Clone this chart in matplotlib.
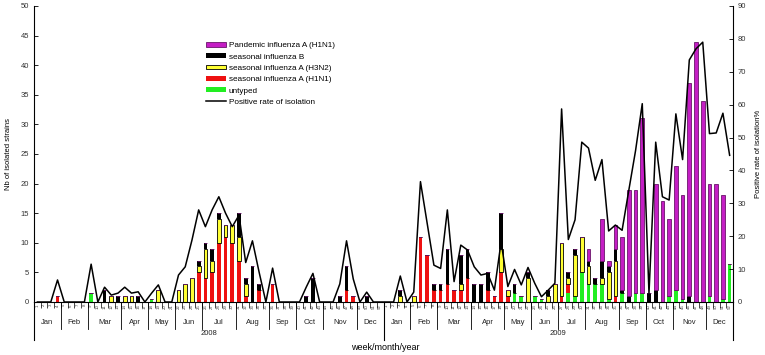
import numpy as np
import matplotlib
matplotlib.use("Agg")
import matplotlib.pyplot as plt
import matplotlib.transforms as mtransforms

plt.rcParams['font.family'] = ['Liberation Sans', 'DejaVu Sans']

# categories on the x axis
years = ['2008', '2009']
months = ['Jan', 'Feb', 'Mar', 'Apr', 'May', 'Jun', 'Jul', 'Aug', 'Sep', 'Oct', 'Nov', 'Dec']
weeks_per_month = {
    '2008': [4, 4, 5, 4, 4, 4, 5, 5, 4, 4, 5, 4],
    '2009': [4, 4, 5, 5, 4, 4, 4, 5, 4, 4, 5, 4],
}

# isolated strains per week (2008 weeks 1-52, then 2009 weeks 1-52)
untyped = [0, 0, 0, 0, 0, 0, 0, 0, 1.5, 0, 0, 0, 0,
           0, 0, 0, 0, 0.5, 0, 0, 0, 0, 0, 0, 0, 0,
           0, 0, 0, 0, 0, 0, 0, 0, 0, 0, 0, 0, 0,
           0, 0, 0, 0, 0, 0, 0, 0, 0, 0, 0, 0, 0,
           0, 0, 0, 0, 0, 0, 0, 0, 0, 0, 0, 0, 0,
           0, 0, 0, 0, 0, 0, 1.5, 1, 0, 1, 0.5, 0, 0,
           0, 1.5, 1, 5, 3, 3, 3, 0.5, 0, 1.5, 0, 1.5, 1.5,
           0, 0, 0, 1, 2, 0.5, 0, 0, 0, 1, 0, 0.5, 6.5]
seasonal_h1n1 = [0, 0, 0, 1, 0, 0, 0, 0, 0, 0, 0, 0, 0,
                 0, 0, 0, 0, 0, 0, 0, 0, 0, 0, 0, 5, 4,
                 5, 10, 11, 10, 7, 1, 0, 2, 0, 3, 0, 0, 0,
                 0, 0, 0, 0, 0, 0, 0, 2, 1, 0, 0, 0, 0,
                 0, 0, 0, 0, 0, 11, 8, 2, 2, 3, 2, 2, 4,
                 0, 0, 2, 1, 5, 1, 0, 0, 0, 0, 0, 0, 0,
                 1, 1.5, 0, 0, 0, 0, 0, 0, 1, 0, 0, 0, 0,
                 0, 0, 0, 0, 0, 0, 0, 0, 0, 0, 0, 0, 0]
seasonal_h3n2 = [0, 0, 0, 0, 0, 0, 0, 0, 0, 0, 0, 1, 0,
                 1, 1, 0, 0, 0, 2, 0, 0, 2, 3, 4, 1, 5,
                 2, 4, 2, 3, 4, 2, 0, 0, 0, 0, 0, 0, 0,
                 0, 0, 0, 0, 0, 0, 0, 0, 0, 0, 0, 0, 0,
                 0, 0, 1, 0, 1, 0, 0, 0, 0, 0, 0, 1, 0,
                 0, 0, 0, 0, 4, 1, 0, 0, 4, 0, 0, 1, 3,
                 9, 1, 7, 6, 3, 0, 1, 4.5, 6, 0, 0, 0, 0,
                 0, 0, 0, 0, 0, 0, 0, 0, 0, 0, 0, 0, 0]
seasonal_b = [0, 0, 0, 0, 0, 0, 0, 0, 0, 0, 2, 0, 1,
              0, 0, 1, 0, 0, 0, 0, 0, 0, 0, 0, 1, 1,
              2, 1, 0, 0, 4, 1, 6, 1, 0, 0, 0, 0, 0,
              0, 1, 4, 0, 0, 0, 1, 4, 0, 0, 1, 0, 0,
              0, 0, 1, 0, 0, 0, 0, 1, 1, 6, 0, 5, 5,
              3, 3, 3, 0, 6, 0, 1.5, 0, 1, 0, 0, 1, 0,
              0, 1, 1, 0, 1, 1, 3, 1, 2, 0.5, 1, 0, 0,
              1.5, 2, 0, 0, 0, 0, 1, 0, 0, 0, 0, 0, 0]
pandemic_h1n1 = [0] * 52 + [0] * 26 + \
                [0, 0, 0, 0, 2, 0, 7, 1, 4, 9, 18, 17.5, 29.5,
                 0, 18, 17, 13, 21, 17.5, 36, 44, 34, 19, 20, 17.5, 0]
positive_rate = [0, 0, 0, 6.7, 0, 0, 0, 0, 11.5, 0, 4.5, 2.1, 2.7,
                 4.5, 2.7, 3.1, 0, 2.7, 5.2, 0, 0, 8.2, 10.7, 18.8, 28, 22.9,
                 28, 32, 27, 22.9, 26.4, 12, 18.6, 9, 0, 10.3, 0, 0, 0,
                 0, 4.5, 8.7, 0, 0, 0, 5.5, 18.6, 7, 0, 3, 0, 0,
                 0, 0, 7.9, 0, 3, 36.6, 23.9, 11.2, 10.2, 28, 6.2, 17.3, 15.8,
                 10.7, 8.2, 8.7, 3.6, 18.3, 4.7, 9.9, 5.2, 10.5, 5.7, 1.6, 3.6, 5.7,
                 58.7, 19, 25, 48.6, 46.8, 37, 43.3, 21.6, 23.4, 21.8, 34, 46, 60.3,
                 2.6, 48.6, 32, 31, 57.2, 43.3, 73.6, 77, 79, 51.2, 51.4, 57.4, 44.6]

x = np.arange(1, len(untyped) + 1)

fig = plt.figure(figsize=(7.65, 3.55), dpi=100)
ax = fig.add_axes([34 / 765, 53 / 355, 699 / 765, 296 / 355])
ax2 = ax.twinx()

# stacked bars, bottom to top
series = [
    (untyped, 'untyped', '#22EE22', 'none', 0),
    (seasonal_h1n1, 'seasonal influenza A (H1N1)', '#EE1111', 'none', 0),
    (seasonal_h3n2, 'seasonal influenza A (H3N2)', '#FFFF33', 'black', 0.6),
    (seasonal_b, 'seasonal influenza B', 'black', 'none', 0),
    (pandemic_h1n1, 'Pandemic influenza A (H1N1)', '#C41EC4', '#6A156A', 0.6),
]
bottom = np.zeros(len(x))
handles = {}
for vals, name, fc, ec, lw in series:
    vals = np.array(vals, dtype=float)
    b = ax.bar(x, vals, width=0.55, bottom=bottom, color=fc, edgecolor=ec,
               linewidth=lw, label=name, zorder=2)
    handles[name] = b
    bottom += vals

line, = ax2.plot(x, positive_rate, color='black', lw=1.1, label='Positive rate of isolation')

ax.set_xlim(0.5, len(x) + 0.5)
ax.set_ylim(0, 50)
ax2.set_ylim(0, 90)
ax.set_yticks(np.arange(0, 51, 5))
ax2.set_yticks(np.arange(0, 91, 10))
ax.tick_params(axis='y', direction='in', length=3, labelsize=5.5, labelcolor='#333333', width=0.6)
ax2.tick_params(axis='y', direction='in', length=3, labelsize=5.5, labelcolor='#333333', width=0.6)

for a in (ax, ax2):
    a.spines['top'].set_visible(False)
    for s in a.spines.values():
        s.set_linewidth(0.8)
ax2.spines['left'].set_visible(False)
ax2.spines['bottom'].set_visible(False)
ax.spines['right'].set_visible(False)

# week numbers under the axis
week_labels = [str(w) for w in range(1, 53)] * 2
ax.set_xticks(x)
ax.set_xticklabels(week_labels, rotation=90, fontsize=3.2, color='#444444')
ax.set_xticks(np.arange(0.5, len(x) + 1, 1), minor=True)
ax.tick_params(axis='x', which='major', length=0, pad=1.5)
ax.tick_params(axis='x', which='minor', length=4, width=0.5, direction='out')

# month and year rows
trans = mtransforms.blended_transform_factory(ax.transData, ax.transAxes)
start = 0.5
for yr in years:
    edges = start + np.concatenate([[0], np.cumsum(weeks_per_month[yr])])
    for i, m in enumerate(months):
        ax.text((edges[i] + edges[i + 1]) / 2, -0.068, m, transform=trans,
                ha='center', va='center', fontsize=5.5, color='#222222')
    for e in edges[1:-1]:
        ax.plot([e, e], [0, -0.09], transform=trans, color='black', lw=0.6, clip_on=False)
    ax.text((edges[0] + edges[-1]) / 2, -0.106, yr, transform=trans,
            ha='center', va='center', fontsize=5.5, color='#222222')
    start = edges[-1]
for e in [0.5, 52.5, 104.5]:
    ax.plot([e, e], [0, -0.13], transform=trans, color='black', lw=0.8, clip_on=False)

ax.text(0.503, -0.155, 'week/month/year', transform=ax.transAxes,
        ha='center', va='center', fontsize=6.5)
ax.set_ylabel('Nb of isolated strains', fontsize=5.5, labelpad=6)
ax2.set_ylabel('Positive rate of isolation%', fontsize=5.5, labelpad=6)

order = ['Pandemic influenza A (H1N1)', 'seasonal influenza B', 'seasonal influenza A (H3N2)',
         'seasonal influenza A (H1N1)', 'untyped']
ax2.legend([handles[k] for k in order] + [line], order + ['Positive rate of isolation'],
           loc='upper left', bbox_to_anchor=(0.246, 0.878), frameon=False,
           fontsize=5.9, handlelength=2.5, handleheight=0.5, handletextpad=0.3,
           labelspacing=0.5, borderpad=0, borderaxespad=0)

fig.savefig('out.png', dpi=100)
